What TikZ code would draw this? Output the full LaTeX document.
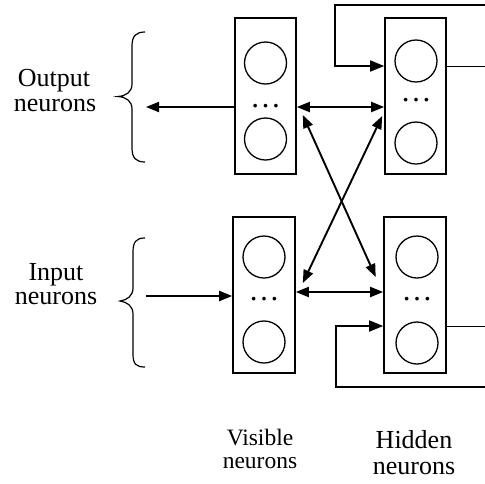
\documentclass[tikz,border=0pt]{standalone}
\usepackage{fontspec}
\setmainfont{Liberation Serif}
\usetikzlibrary{arrows.meta,calc}

\begin{document}
\begin{tikzpicture}[x=1pt,y=-1pt,
  layer/.style={draw, line width=1.6pt, minimum width=61pt, minimum height=156pt, inner sep=0pt},
  neuron/.style={draw, circle, line width=1.3pt, minimum size=42pt, inner sep=0pt},
  dotsnode/.style={font=\fontsize{31}{31}\selectfont, inner sep=0pt, anchor=base},
  link/.style={line width=1.9pt, -{Triangle[length=13pt,width=10pt]}},
  duallink/.style={line width=1.9pt, {Triangle[length=13pt,width=10pt]}-{Triangle[length=13pt,width=10pt]}},
  loop/.style={line width=1.6pt, -{Triangle[length=14pt,width=11pt]}},
  wire/.style={line width=1pt},
  brace/.style={line width=1.2pt},
  biglabel/.style={font=\fontsize{26}{26}\selectfont, inner sep=0pt, anchor=base},
  smalllabel/.style={font=\fontsize{23.5}{23.5}\selectfont, inner sep=0pt, anchor=base}
]
\useasboundingbox (0,0) rectangle (485,483);

% layers of neurons
\node[layer] (vo) at (265.5,96) {};
\node[layer] (ho) at (415.5,96) {};
\node[layer, minimum width=62pt] (vi) at (264,295) {};
\node[layer, minimum width=62pt] (hi) at (415,295) {};

% neurons inside each layer
\node[neuron] (vo1) at (265.5,63) {};
\node[neuron] (vo2) at (265.5,139) {};
\node[dotsnode] (vod) at (265.5,107) {…};
\node[neuron] (ho1) at (416,61) {};
\node[neuron] (ho2) at (416,143) {};
\node[dotsnode] (hod) at (416,101) {…};
\node[neuron] (vi1) at (264,257) {};
\node[neuron] (vi2) at (264,342) {};
\node[dotsnode] (vid) at (264,300) {…};
\node[neuron] (hi1) at (417,257) {};
\node[neuron] (hi2) at (417,343) {};
\node[dotsnode] (hid) at (417,300) {…};

% free ends of the outer connectors
\coordinate (outtip) at (146,107);
\coordinate (instart) at (146,296);
\coordinate (hoout) at (485,66);
\coordinate (hotopR) at (485,5);
\coordinate (hotopL) at (335,5);
\coordinate (hiout) at (485,326);
\coordinate (hibotR) at (485,387);
\coordinate (hibotL) at (336,387);

% connections
\draw[link] ([yshift=-11pt]vo.west) -- (outtip);
\draw[link] (instart) -- ([yshift=-1pt]vi.west);
\draw[duallink] ([yshift=-11pt]vo.east) -- ([yshift=-11pt]ho.west);
\draw[duallink] ([yshift=3pt]vi.east) -- ([yshift=3pt]hi.west);
\draw[duallink] ($(vo.east)+(6,19)$) -- ($(hi.west)+(-7.5,-18)$);
\draw[duallink] ($(ho.west)+(-2,20)$) -- ($(vi.east)+(7,-12)$);

% recurrent loops of the hidden layers
\draw[wire] ([yshift=30pt]ho.east) -- (hoout);
\draw[loop] (hotopR) -- (hotopL) |- ([yshift=30pt]ho.west);
\draw[wire] ([yshift=-31pt]hi.east) -- (hiout);
\draw[loop] (hibotR) -- (hibotL) |- ([yshift=-31pt]hi.west);

% braces
\draw[brace] (145,32) .. controls (136,32) and (132,36) .. (132,46)
  -- (132,84) .. controls (132,92) and (126,96) .. (118,96.5)
  .. controls (126,97) and (132,101) .. (132,109)
  -- (132,148) .. controls (132,158) and (136,162) .. (145,162);
\draw[brace] (145,238) .. controls (136,238) and (133,242) .. (133,252)
  -- (133,288) .. controls (133,296) and (127,300) .. (120,301)
  .. controls (127,302) and (133,306) .. (133,314)
  -- (133,354) .. controls (133,364) and (136,367) .. (145,367);

% labels
\node[biglabel] (outA) at (54,86) {Output};
\node[biglabel] (outB) at (55,111) {neurons};
\node[biglabel] (inA) at (56,280) {Input};
\node[biglabel] (inB) at (56,304) {neurons};
\node[smalllabel] (visA) at (260,445) {Visible};
\node[smalllabel] (visB) at (260,468) {neurons};
\node[biglabel] (hidA) at (414,448) {Hidden};
\node[biglabel] (hidB) at (414,474) {neurons};
\end{tikzpicture}
\end{document}
